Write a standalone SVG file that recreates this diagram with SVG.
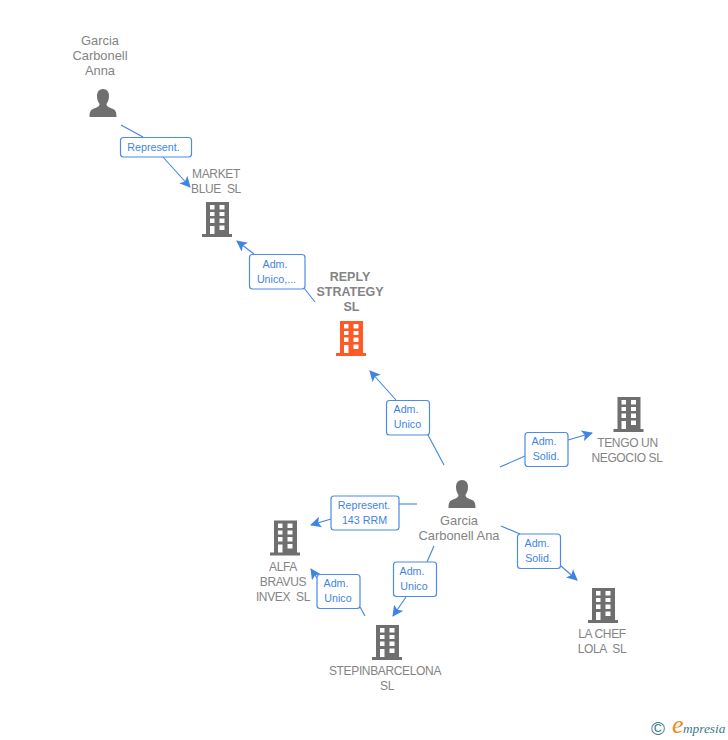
<svg xmlns="http://www.w3.org/2000/svg" width="728" height="740" viewBox="0 0 728 740">
<style>
text{font-family:"Liberation Sans",Arial,sans-serif;white-space:pre}
.n{font-size:12.900px;fill:#848484;text-anchor:middle}
.u{font-size:12px;letter-spacing:-0.350px;fill:#848484;text-anchor:middle}
.b{font-size:12.500px;font-weight:bold;fill:#848484;text-anchor:middle}
.c{fill:none;stroke:#3f84e5;stroke-width:1.100}
.lb{fill:#fff;stroke:#4a8ce6;stroke-width:1.200}
.t{font-size:10.700px;fill:#3f84e5;text-anchor:middle}
</style>
<defs>
<marker id="a" markerUnits="userSpaceOnUse" markerWidth="12" markerHeight="12" refX="10" refY="5.500" orient="auto" viewBox="0 0 12 11"><path d="M0 0L11 5.500L0 11L2.500 5.500Z" fill="#3f84e5"/></marker>
<symbol id="bld" viewBox="0 0 32 35" width="32" height="35" overflow="visible">
<path fill-rule="evenodd" d="M4 0H27V32H30V35H0V32H4ZM8 3V7.500H12.500V3ZM17.500 3V7.500H22.500V3ZM8 10V14H12.500V10ZM17.500 10V14H22.500V10ZM8 16.500V21H12.500V16.500ZM17.500 16.500V21H22.500V16.500ZM8 24V32H12.500V24ZM17.500 23.500V28H22.500V23.500Z"/>
</symbol>
<symbol id="per" viewBox="0 0 28 28" width="28" height="28">
<path d="M14 0C10 0 8 3 8 7C8 10 9 13 10.500 15C10.500 17 9 18 5 19.500C2 20.500 0.500 22 0.500 28H27.500C27.500 22 26 20.500 23 19.500C19 18 17.500 17 17.500 15C19 13 20 10 20 7C20 3 18 0 14 0Z"/>
</symbol>
</defs>
<g id="connectors">
<path class="c" d="M121 125L143 137"/><path class="c" marker-end="url(#a)" d="M163 157L190 187"/>
<path class="c" d="M315 302L304 288"/><path class="c" marker-end="url(#a)" d="M254 254L237 241"/>
<path class="c" d="M444 465L428 435"/><path class="c" marker-end="url(#a)" d="M396 400L370 371"/>
<path class="c" d="M500 467L525 456"/><path class="c" marker-end="url(#a)" d="M568 440L592 433"/>
<path class="c" d="M501 526L520 534"/><path class="c" marker-end="url(#a)" d="M561 566L577 580"/>
<path class="c" d="M417 504L399 504"/><path class="c" marker-end="url(#a)" d="M331 519L311 525"/>
<path class="c" d="M434 546L427 562"/><path class="c" marker-end="url(#a)" d="M406 597L393 616"/>
<path class="c" d="M365 616L360 607"/><path class="c" marker-end="url(#a)" d="M317 578L311 569"/>
</g>
<g id="labels">
<g id="l1"><rect class="lb" x="120.500" y="137.500" width="71" height="19.500" rx="3"/><text class="t" x="153.500" y="151">Represent.</text></g>
<g id="l2"><rect class="lb" x="249.500" y="254.500" width="55.500" height="34.500" rx="3"/><text class="t" x="275" y="268">Adm.</text><text class="t" x="276.500" y="283">Unico,...</text></g>
<g id="l3"><rect class="lb" x="386.500" y="400.500" width="43" height="34.500" rx="3"/><text class="t" x="406" y="413">Adm.</text><text class="t" x="407.500" y="428">Unico</text></g>
<g id="l4"><rect class="lb" x="525" y="432.500" width="43" height="34" rx="3"/><text class="t" x="544" y="445">Adm.</text><text class="t" x="546" y="460">Solid.</text></g>
<g id="l5"><rect class="lb" x="517.500" y="534" width="43" height="34.500" rx="3"/><text class="t" x="537" y="547">Adm.</text><text class="t" x="538.500" y="562">Solid.</text></g>
<g id="l6"><rect class="lb" x="331" y="496" width="68" height="34" rx="3"/><text class="t" x="364" y="509">Represent.</text><text class="t" x="364.500" y="524">143 RRM</text></g>
<g id="l7"><rect class="lb" x="393.500" y="562" width="43" height="34.500" rx="3"/><text class="t" x="412" y="575">Adm.</text><text class="t" x="414" y="590">Unico</text></g>
<g id="l8"><rect class="lb" x="317" y="574.500" width="43" height="34" rx="3"/><text class="t" x="336" y="587">Adm.</text><text class="t" x="338" y="602">Unico</text></g>
</g>
<g id="garcia-anna"><text class="n" x="100" y="45">Garcia</text><text class="n" x="100" y="60">Carbonell</text><text class="n" x="100" y="75">Anna</text><use href="#per" x="89" y="89" fill="#6f6f6f"/></g>
<g id="market-blue"><text class="u" x="216" y="178">MARKET</text><text class="u" x="216" y="193">BLUE  SL</text><use href="#bld" x="202" y="202" fill="#6f6f6f"/></g>
<g id="reply"><text class="b" x="350" y="281">REPLY</text><text class="b" x="350" y="296">STRATEGY</text><text class="b" x="351.500" y="311">SL</text><use href="#bld" x="336" y="321" fill="#ff5a26"/></g>
<g id="garcia-ana"><use href="#per" x="448" y="480" fill="#6f6f6f"/><text class="n" x="459" y="525">Garcia</text><text class="n" x="459" y="540">Carbonell Ana</text></g>
<g id="tengo"><use href="#bld" x="613.500" y="397" fill="#6f6f6f"/><text class="u" x="627.500" y="447">TENGO UN</text><text class="u" x="627" y="462">NEGOCIO SL</text></g>
<g id="lachef"><use href="#bld" x="588" y="588" fill="#6f6f6f"/><text class="u" x="602" y="638">LA CHEF</text><text class="u" x="602" y="653">LOLA  SL</text></g>
<g id="alfa"><use href="#bld" x="270" y="520.500" fill="#6f6f6f"/><text class="u" x="283" y="571">ALFA</text><text class="u" x="283" y="586">BRAVUS</text><text class="u" x="283" y="601">INVEX  SL</text></g>
<g id="stepin"><use href="#bld" x="372" y="625" fill="#6f6f6f"/><text class="u" x="385" y="675">STEPINBARCELONA</text><text class="u" x="387" y="690">SL</text></g>
<g id="logo"><text x="658" y="735" font-size="19" fill="#3a7a90" text-anchor="middle">©</text><text x="672" y="733" font-size="26" font-style="italic" fill="#f08a1d" style="font-family:'Liberation Serif',serif">e</text><text x="683" y="733" font-size="13.300" font-style="italic" fill="#3a7a90" style="font-family:'Liberation Serif',serif">mpresia</text></g>
</svg>
